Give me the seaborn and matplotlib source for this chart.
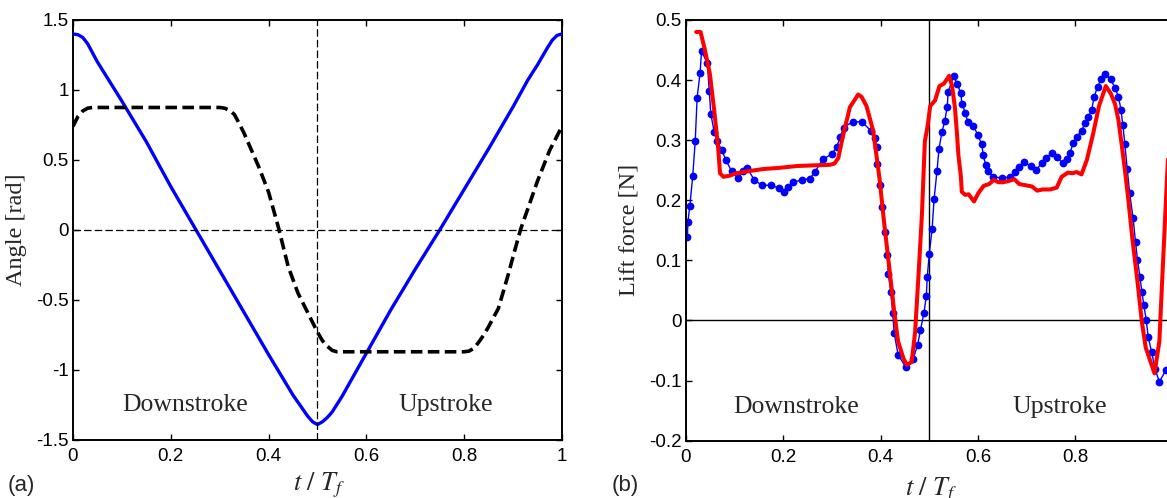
import matplotlib
matplotlib.use("Agg")
import matplotlib.pyplot as plt
from matplotlib.ticker import FixedLocator, FixedFormatter
import pandas as pd
import seaborn as sns

# ---- (a) wing kinematics over one flapping period -------------------------
angle_t = [0.00, 0.01, 0.02, 0.03, 0.05, 0.10, 0.15, 0.20, 0.25, 0.30, 0.35,
           0.40, 0.45, 0.47, 0.48, 0.49, 0.50, 0.51, 0.52, 0.53, 0.55, 0.60,
           0.65, 0.70, 0.75, 0.80, 0.85, 0.90, 0.93, 0.95, 0.97, 0.98, 0.99,
           1.00]
stroke_angle = [1.40, 1.395, 1.375, 1.33, 1.20, 0.92, 0.63, 0.31, 0.01, -0.29,
                -0.59, -0.89, -1.18, -1.28, -1.33, -1.37, -1.39, -1.37, -1.34,
                -1.30, -1.19, -0.88, -0.57, -0.28, 0.00, 0.29, 0.58, 0.88,
                1.07, 1.18, 1.30, 1.355, 1.39, 1.40]

pitch_t = [0.00, 0.01, 0.02, 0.03, 0.04, 0.30, 0.31, 0.32, 0.33, 0.34, 0.35,
           0.36, 0.38, 0.40, 0.42, 0.44, 0.46, 0.48, 0.50, 0.51, 0.52, 0.53,
           0.54, 0.80, 0.81, 0.82, 0.83, 0.84, 0.85, 0.87, 0.89, 0.90, 0.915,
           0.93, 0.95, 0.975, 1.00]
pitch_angle = [0.74, 0.81, 0.85, 0.87, 0.875, 0.875, 0.87, 0.855, 0.825, 0.76,
               0.69, 0.61, 0.45, 0.27, 0.02, -0.26, -0.45, -0.59, -0.73, -0.79,
               -0.83, -0.86, -0.87, -0.87, -0.865, -0.845, -0.80, -0.75, -0.69,
               -0.56, -0.32, -0.19, 0.00, 0.15, 0.35, 0.57, 0.74]

# ---- (b) lift force: measured (dots) and computed (red) -------------------
lift_meas_t = [0.003, 0.004, 0.008, 0.014, 0.019, 0.023, 0.029, 0.032, 0.044,
               0.048, 0.051, 0.058, 0.064, 0.074, 0.082, 0.094, 0.107, 0.118,
               0.126, 0.140, 0.156, 0.175, 0.192, 0.202, 0.210, 0.221, 0.238,
               0.254, 0.265, 0.281, 0.300, 0.310, 0.317, 0.324, 0.343, 0.362,
               0.380, 0.388, 0.392, 0.393, 0.399, 0.403, 0.409, 0.414, 0.416,
               0.421, 0.425, 0.428, 0.436, 0.452, 0.467, 0.476, 0.482, 0.489,
               0.494, 0.496, 0.500, 0.506, 0.510, 0.516, 0.520, 0.526, 0.532,
               0.537, 0.539, 0.550, 0.558, 0.565, 0.567, 0.574, 0.579, 0.591,
               0.600, 0.608, 0.611, 0.616, 0.621, 0.632, 0.649, 0.666, 0.677,
               0.685, 0.694, 0.709, 0.720, 0.731, 0.740, 0.752, 0.763, 0.774,
               0.783, 0.789, 0.796, 0.804, 0.813, 0.820, 0.827, 0.834, 0.839,
               0.846, 0.853, 0.862, 0.873, 0.882, 0.889, 0.894, 0.898, 0.902,
               0.907, 0.912, 0.919, 0.924, 0.928, 0.933, 0.937, 0.941, 0.946,
               0.950, 0.957, 0.964, 0.973, 0.987, 1.000]
lift_meas = [0.139, 0.164, 0.191, 0.241, 0.298, 0.371, 0.412, 0.448, 0.428,
             0.381, 0.344, 0.314, 0.298, 0.283, 0.267, 0.248, 0.237, 0.248,
             0.254, 0.234, 0.225, 0.225, 0.220, 0.214, 0.222, 0.230, 0.234,
             0.236, 0.247, 0.268, 0.277, 0.289, 0.305, 0.321, 0.331, 0.330,
             0.316, 0.304, 0.288, 0.260, 0.226, 0.188, 0.148, 0.109, 0.077,
             0.048, 0.012, -0.021, -0.057, -0.078, -0.064, -0.041, -0.016,
             0.012, 0.040, 0.073, 0.110, 0.153, 0.202, 0.249, 0.285, 0.313,
             0.332, 0.356, 0.380, 0.407, 0.393, 0.378, 0.361, 0.346, 0.331,
             0.324, 0.308, 0.293, 0.275, 0.259, 0.249, 0.239, 0.237, 0.239,
             0.247, 0.255, 0.263, 0.257, 0.250, 0.262, 0.270, 0.279, 0.272,
             0.262, 0.268, 0.278, 0.295, 0.306, 0.316, 0.328, 0.338, 0.351,
             0.372, 0.389, 0.401, 0.410, 0.401, 0.387, 0.372, 0.351, 0.325,
             0.294, 0.252, 0.212, 0.170, 0.131, 0.101, 0.073, 0.048, 0.026,
             0.001, -0.027, -0.052, -0.080, -0.102, -0.082, -0.075]

lift_model_t = [0.021, 0.030, 0.039, 0.049, 0.058, 0.066, 0.070, 0.077, 0.090,
                0.104, 0.125, 0.159, 0.193, 0.228, 0.260, 0.296, 0.305, 0.313,
                0.323, 0.337, 0.354, 0.361, 0.371, 0.385, 0.392, 0.398, 0.407,
                0.418, 0.428, 0.436, 0.447, 0.454, 0.464, 0.471, 0.478, 0.485,
                0.491, 0.497, 0.502, 0.512, 0.521, 0.530, 0.541, 0.547, 0.553,
                0.557, 0.560, 0.565, 0.567, 0.574, 0.581, 0.592, 0.601, 0.612,
                0.623, 0.633, 0.642, 0.652, 0.663, 0.675, 0.685, 0.711, 0.722,
                0.733, 0.748, 0.762, 0.772, 0.785, 0.794, 0.803, 0.813, 0.824,
                0.837, 0.849, 0.863, 0.873, 0.882, 0.889, 0.896, 0.903, 0.909,
                0.917, 0.928, 0.937, 0.945, 0.963, 0.973, 0.980, 0.989, 0.995]
lift_model = [0.480, 0.480, 0.450, 0.411, 0.350, 0.289, 0.245, 0.239, 0.241,
              0.245, 0.248, 0.252, 0.254, 0.257, 0.258, 0.259, 0.261, 0.270,
              0.308, 0.355, 0.376, 0.372, 0.357, 0.315, 0.272, 0.235, 0.165,
              0.087, 0.015, -0.035, -0.063, -0.074, -0.069, -0.019, 0.076,
              0.176, 0.298, 0.325, 0.357, 0.366, 0.390, 0.394, 0.407, 0.390,
              0.353, 0.311, 0.275, 0.240, 0.214, 0.209, 0.210, 0.198, 0.212,
              0.224, 0.227, 0.234, 0.230, 0.230, 0.232, 0.235, 0.227, 0.223,
              0.216, 0.218, 0.218, 0.221, 0.239, 0.246, 0.245, 0.247, 0.243,
              0.267, 0.311, 0.357, 0.390, 0.378, 0.360, 0.333, 0.290, 0.245,
              0.203, 0.140, 0.065, -0.002, -0.045, -0.088, -0.035, 0.087,
              0.242, 0.330]

# ---- axis ticks ------------------------------------------------------------
a_xticks = [0, 0.2, 0.4, 0.6, 0.8, 1.0]
a_xlabels = ["0", "0.2", "0.4", "0.6", "0.8", "1"]
a_yticks = [-1.5, -1.0, -0.5, 0, 0.5, 1.0, 1.5]
a_ylabels = ["-1.5", "-1", "-0.5", "0", "0.5", "1", "1.5"]
b_xticks = [0, 0.2, 0.4, 0.6, 0.8]
b_xlabels = ["0", "0.2", "0.4", "0.6", "0.8"]
b_yticks = [-0.2, -0.1, 0, 0.1, 0.2, 0.3, 0.4, 0.5]
b_ylabels = ["-0.2", "-0.1", "0", "0.1", "0.2", "0.3", "0.4", "0.5"]

sns.set_style("ticks")
plt.rcParams.update({
    "font.family": ["Liberation Sans", "DejaVu Sans"],
    "mathtext.fontset": "stix",
    "axes.unicode_minus": False,
    "axes.linewidth": 1.4,
    "xtick.direction": "in",
    "ytick.direction": "in",
    "xtick.top": True,
    "ytick.right": True,
    "xtick.major.size": 4,
    "ytick.major.size": 4,
    "xtick.major.width": 1.0,
    "ytick.major.width": 1.0,
    "xtick.labelsize": 13.5,
    "ytick.labelsize": 13.5,
    "xtick.color": "black",
    "ytick.color": "black",
    "axes.edgecolor": "black",
})

SERIF = ["Liberation Serif", "DejaVu Serif"]

fig = plt.figure(figsize=(11.67, 4.98), dpi=100)
ax_a = fig.add_axes([0.06255, 0.1165, 0.419, 0.8434])
ax_b = fig.add_axes([0.5878, 0.1151, 0.4169, 0.8448])

# ---- panel (a) -------------------------------------------------------------
df_stroke = pd.DataFrame({"t": angle_t, "angle": stroke_angle})
df_pitch = pd.DataFrame({"t": pitch_t, "angle": pitch_angle})
sns.lineplot(data=df_stroke, x="t", y="angle", ax=ax_a, color="#0000ff",
             lw=2.4, sort=False, estimator=None, zorder=3)
sns.lineplot(data=df_pitch, x="t", y="angle", ax=ax_a, color="black",
             lw=2.6, linestyle=(0, (3.2, 1.5)), sort=False, estimator=None,
             zorder=3)
ax_a.axhline(0, color="black", lw=0.9, linestyle=(0, (6, 2.5)), zorder=4)
ax_a.axvline(0.5, color="black", lw=0.9, linestyle=(0, (6, 2.5)), zorder=4)
ax_a.set_xlim(0, 1)
ax_a.set_ylim(-1.5, 1.5)
ax_a.xaxis.set_major_locator(FixedLocator(a_xticks))
ax_a.xaxis.set_major_formatter(FixedFormatter(a_xlabels))
ax_a.yaxis.set_major_locator(FixedLocator(a_yticks))
ax_a.yaxis.set_major_formatter(FixedFormatter(a_ylabels))
ax_a.text(0.229, -1.25, "Downstroke", family=SERIF, fontsize=18.5,
          ha="center", va="center")
ax_a.text(0.762, -1.25, "Upstroke", family=SERIF, fontsize=18.5,
          ha="center", va="center")
ax_a.set_ylabel("Angle [rad]", family=SERIF, fontsize=17.5)
ax_a.yaxis.set_label_coords(-0.094, 0.5)
ax_a.set_xlabel(r"$t\ /\ T_f$", fontsize=19)
ax_a.xaxis.set_label_coords(0.503, -0.074)

# ---- panel (b) -------------------------------------------------------------
df_meas = pd.DataFrame({"t": lift_meas_t, "lift": lift_meas})
df_model = pd.DataFrame({"t": lift_model_t, "lift": lift_model})
ax_b.axhline(0, color="black", lw=1.0, zorder=1)
ax_b.axvline(0.5, color="black", lw=1.0, zorder=1)
sns.lineplot(data=df_meas, x="t", y="lift", ax=ax_b, color="#0000ff",
             lw=1.0, marker="o", markersize=5.6, markeredgewidth=0,
             markerfacecolor="#0000ff", sort=False, estimator=None, zorder=2)
sns.lineplot(data=df_model, x="t", y="lift", ax=ax_b, color="#ff0000",
             lw=2.9, sort=False, estimator=None, zorder=3)
ax_b.set_xlim(0, 1)
ax_b.set_ylim(-0.2, 0.5)
ax_b.xaxis.set_major_locator(FixedLocator(b_xticks))
ax_b.xaxis.set_major_formatter(FixedFormatter(b_xlabels))
ax_b.yaxis.set_major_locator(FixedLocator(b_yticks))
ax_b.yaxis.set_major_formatter(FixedFormatter(b_ylabels))
ax_b.tick_params(axis="y", right=False)
ax_b.text(0.2255, -0.144, "Downstroke", family=SERIF, fontsize=18.5,
          ha="center", va="center")
ax_b.text(0.769, -0.144, "Upstroke", family=SERIF, fontsize=18.5,
          ha="center", va="center")
ax_b.set_ylabel("Lift force [N]", family=SERIF, fontsize=17.5)
ax_b.yaxis.set_label_coords(-0.095, 0.5)
ax_b.set_xlabel(r"$t\ /\ T_f$", fontsize=19)
ax_b.xaxis.set_label_coords(0.503, -0.084)

for ax in (ax_a, ax_b):
    ax.tick_params(axis="x", pad=6)
    ax.tick_params(axis="y", pad=3)
    for s in ax.spines.values():
        s.set_visible(True)
        s.set_linewidth(1.4)

fig.text(8 / 1167, 13 / 498, "(a)", fontsize=16, ha="left", va="center")
fig.text(612 / 1167, 13 / 498, "(b)", fontsize=16, ha="left", va="center")

fig.savefig("out.png", dpi=100)
